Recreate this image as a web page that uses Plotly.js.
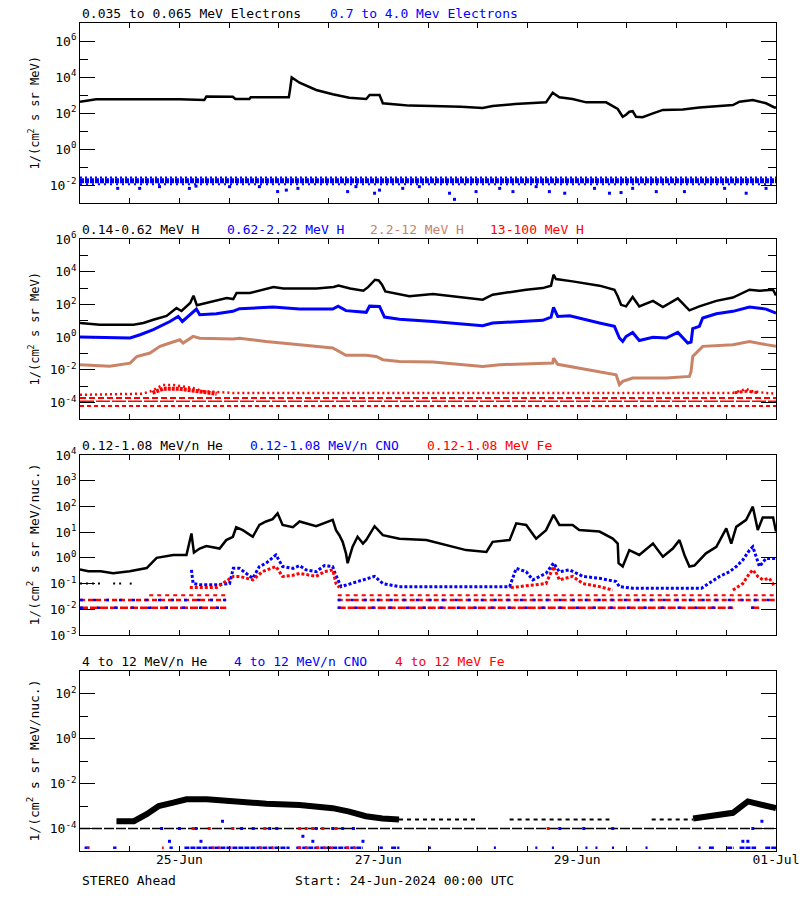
<!DOCTYPE html>
<html>
<head>
<meta charset="utf-8">
<script src="https://cdn.plot.ly/plotly-3.0.1.min.js"></script>
<style>html,body{margin:0;padding:0;background:#fff;}#chart{width:800px;height:900px;}</style>
</head>
<body>
<div id="chart"></div>
<script>
// ---------- time axis (hours since 24-Jun-2024 00:00 UTC) ----------
const hourTicks = [0,12,24,36,48,60,72,84,96,108,120,132,144,156,168];
const dayLabels = ['','','25-Jun','','','','27-Jun','','','','29-Jun','','','','01-Jul'];

// ---------- Panel 1: electrons ----------
const elecLoHours = [0,3.9,24,28,30,30.5,36.9,37.5,40.9,41.2,50.4,50.7,51.1,53,57,61,65,69.1,69.9,72.3,73.1,77.1,79.5,85,92,97.2,99.6,105,112.5,114.1,115.7,118.9,122.2,127,128.6,129.8,131,131.8,132.6,133.4,134.2,135.8,138.3,140.7,145.5,149.5,157.6,159.2,162.4,165.6,167.6,168];
const elecLoFlux  = [427,575,575,525,525,813,794,603,603,741,741,2000,9550,4790,1900,1100,710,600,1000,1000,347,290,257,245,224,190,245,316,390,1350,740,600,390,390,245,166,62,80,117,126,62,58,95,148,158,204,275,427,525,347,204,204];
const elecHiLevels = [0.0175, 0.026, 0.011];          // band core, upper fringe, lower fringe
const elecHiSegs = [[0,168]];
const elecHiOutHours = [9.1,14.4,19.2,26.4,28.0,36.1,43.3,47.7,49.8,52.6,64.6,66.6,71.1,72.3,77.9,81.9,89.2,90.4,95.6,101.3,104.5,110.1,113.3,117.0,124.2,127.8,130.6,133.4,139.1,145.9,155.6,160.8,165.6];
const elecHiOutFlux  = [0.0065,0.0065,0.0081,0.0065,0.0087,0.0081,0.0081,0.0043,0.0052,0.0065,0.0043,0.0081,0.0035,0.0052,0.0065,0.0081,0.0035,0.0016,0.0043,0.0065,0.0043,0.0081,0.0043,0.0035,0.0065,0.0035,0.0038,0.0065,0.0043,0.0043,0.0065,0.0035,0.0065];

// ---------- Panel 2: protons ----------
const hLoHours = [0,4.8,12.9,15.3,17.7,20.9,23.3,24.5,26.6,27.4,28.2,29,32.2,35.4,37,37.8,41,44.3,46.7,49.1,57.1,61.2,62.4,65.2,68.4,69.6,71.2,72.1,72.9,73.7,77.1,79.5,85.2,97.2,99.6,107.7,111.7,113.7,114.3,114.9,118.9,125.4,129,129.8,130.6,131.8,133.4,135,138.3,140.7,144.3,147.1,149.5,153.6,157.6,161.6,164,167.3,168];
const hLoFlux  = [7.4,5.8,5.8,7.4,11.7,20,60,40,123,340,89,100,155,245,214,500,500,794,1175,955,955,1175,1410,955,692,1175,3240,2950,1620,631,398,316,436,195,398,794,1000,1410,6610,3550,2570,1410,794,316,95,76,288,76,166,69,234,44,76,166,263,794,692,794,355];
const hMidHours = [0,12.1,14.5,17.7,21.7,23.7,24.7,26.5,28.1,28.9,32.9,36.9,38.5,46.6,53,61,62.3,64.2,69.1,69.9,72.3,73.5,77.1,85.2,93.2,97.2,99.6,111.7,113.7,114.3,115.3,118.2,125.4,129,130.2,131,131.8,133.4,135,138.3,141.5,144.3,146.7,147.5,147.9,149.5,150.3,153.6,157.6,161.6,165.6,168];
const hMidFlux  = [1.02,0.89,1.41,2.9,9.1,18.6,9.1,23.4,52,23.4,27,38,55,69,52,52,79,42,33,79,76,17,12.5,9.1,6.3,5.0,7.4,10.7,17,66,18.6,20.4,7.4,4.6,0.89,0.55,1.1,1.95,0.63,1.0,0.89,1.95,0.44,0.5,3.3,4.6,14.8,27,38,69,52,29.5];
const hHiHours = [0,7.2,12.1,13.7,16.9,19.3,21.7,24.1,24.9,27.3,28.9,36.9,38.5,44.9,53,61,64.2,69.1,71.5,73.1,77.1,85.2,97.2,101.3,114.1,114.3,115.3,125.4,129.4,130.2,131,133.4,141.5,147.1,147.5,147.9,150.3,157.6,161.6,165.6,168];
const hHiFlux  = [0.021,0.0166,0.026,0.066,0.107,0.275,0.44,0.69,0.44,1.12,0.87,0.78,0.87,0.55,0.35,0.22,0.078,0.078,0.066,0.042,0.033,0.030,0.016,0.021,0.026,0.052,0.022,0.0081,0.005,0.00126,0.002,0.0032,0.0032,0.004,0.0081,0.066,0.275,0.35,0.55,0.35,0.275];
const hTopRowLevels = [6.3e-5, 1.2e-4, 1.9e-4];
const hTopRowSegs = [[[0,168]], [[0,168]], [[0,168]]];
const hTopUpperHours = [0,15,17,18.5,20,22.5,24.9,27.3,29.7,32,37,60,100,150,157.6,160.8,162.4,165.6,168];
const hTopUpperFlux  = [3.0e-4,3.5e-4,4.9e-4,7.8e-4,1.2e-3,1.2e-3,9.8e-4,7.8e-4,5e-4,4.5e-4,3.9e-4,3.9e-4,3.9e-4,3.9e-4,3.9e-4,6.8e-4,4.9e-4,3.9e-4,3.5e-4];
const hTopBumpHours = [17.5,20,24,28,33,158,160.8,164];
const hTopBumpFlux  = [4e-4,7e-4,7e-4,5e-4,3.5e-4,4e-4,5e-4,4e-4];

// ---------- Panel 3: 0.12-1.08 MeV/n ions ----------
const heLoHours = [0,2,5,8,12,16.1,18.5,22.5,25.7,26.9,27.5,28.9,30.5,33.7,35.3,36.9,37.7,39.3,41.7,43.3,44.9,46.5,47.7,48.9,51.4,53,57,61,61.8,62.6,63.4,64.2,64.6,65.8,67,68.3,69.1,71.1,73.1,77.1,83.6,93.2,98.1,99.6,103.7,105.3,107.7,110.1,112.5,114.3,115.7,118.9,120.5,125.4,128.6,129.8,130,131,132.6,135,138.3,140.7,143.1,144.7,145.9,147.1,148.3,151.1,153.6,156,157.2,158.4,160.8,162.4,163.6,164.8,167.3,168];
const heLoFlux  = [0.35,0.3,0.3,0.25,0.3,0.4,1.0,1.3,1.3,8.9,1.6,2.3,2.9,2.3,4.9,6.6,15.5,12,6.6,19,26,32,54,19,15.5,26,17,30,12,7.6,4.2,1.5,0.62,2.7,6.6,3.6,5.0,17,7.6,5.5,4.9,2.0,1.7,4.2,4.9,22,19,5.6,12,47,19,19,12,10.5,5.6,3.6,0.62,0.46,2.0,1.3,3.6,1.1,2.3,4.9,1.3,0.46,0.5,1.5,2.7,14,3.6,16,30,98,12,37,37,10.5];
const heLoRowLevel = 0.1;
const heLoRowSegs = [[0,5],[8,10],[12,13]];
const cnoLoHours = [26.9,27.3,29,33,36.1,37,38.5,40,41.7,43.3,44.9,47.3,48.9,51.4,53,54.6,57,59,61,61.4,62.2,63,71.1,73.1,77,100,103.7,105.3,107.7,109.3,112.5,114.3,115.7,118.2,121.4,125.4,129.4,130.2,133.4,150,154.4,156.8,158.4,160,161.6,162.4,164,165.6,168];
const cnoLoFlux  = [0.34,0.1,0.09,0.09,0.1,0.39,0.39,0.25,0.16,0.46,0.62,1.3,0.46,0.39,0.5,0.34,0.29,0.5,0.46,0.29,0.14,0.076,0.19,0.1,0.076,0.076,0.076,0.39,0.29,0.14,0.25,0.63,0.29,0.34,0.19,0.16,0.12,0.076,0.066,0.066,0.19,0.29,0.46,0.83,2.0,2.7,0.46,0.95,0.95];
const feLoHours = [26.5,33,37,38.5,41.7,44,47.3,48.9,51.4,53,57,59,61,61.8,62.6,null,104,112.5,114.3,115.7,118.9,121.4,125.4,128.6,null,157.6,160,161.6,162.4,163.6,164.8,166.4,167.7];
const feLoFlux  = [0.07,0.07,0.19,0.19,0.14,0.29,0.46,0.19,0.21,0.25,0.19,0.29,0.34,0.1,0.07,null,0.07,0.1,0.46,0.14,0.19,0.1,0.076,0.056,null,0.056,0.1,0.25,0.34,0.19,0.14,0.16,0.076];
const ionRowLevels = [0.0115, 0.023, 0.035];
const ionRowSegs = [[[0,35.3],[62.2,157.6],[162,164]], [[0,35.3],[62.2,168]], [[16.7,35.3],[62.2,168]]];

// ---------- Panel 4: 4-12 MeV/n ions ----------
const he4Hours = [8.8,13,16.1,19,22.5,25.7,30.6,37,45,53,57,61,65,69,73,77,null,148,153.6,157.6,161.2,164,168];
const he4Flux  = [2.1e-4,2.1e-4,4.3e-4,1e-3,1.4e-3,2.0e-3,2.0e-3,1.6e-3,1.26e-3,1.1e-3,1e-3,8e-4,5.6e-4,3.5e-4,2.8e-4,2.5e-4,null,2.8e-4,4e-4,5e-4,1.6e-3,1.26e-3,8e-4];
const he4FloorLevel = 1e-4;
const he4FloorSegs = [[0,168]];
const he4MidLevel = 2.5e-4;
const he4MidSegs = [[77,95.6],[103.7,127.8],[138,148]];
const cno4RowLevel = 1.4e-5;
const cno4RowSegs = [[1.1,2.3],[8,8.8],[21.6,22.4],[25.2,50.6],[52.2,68.3],[72.3,73.1],[75.1,77.1],[84.2,84.7],[99.9,100.4],[109.9,110.4],[113.9,114.4],[122,122.5],[124.4,124.9],[128.4,128.9],[136.5,137],[149.3,149.8],[151.8,153],[156.2,157.8],[159.2,163.2],[165.4,168]];
const fe4RowSegs = [[1.7,2.1],[19.8,20.2],[31.9,32.4],[33.4,33.9],[36,36.4],[43.2,45],[46.3,46.7],[52.6,56],[57,61],[64.2,66.6]];
const cno4PtHours = [21.6,29.2,53.8,56.2,68.3,160,161.2,19.7,24,28,39,41.8,45.8,47.5,57,61,63.4,66,115.8,121.6,128.6,162.4,34.4,164.6];
const cno4PtFlux  = [2.7e-5,2.7e-5,4.5e-5,2.7e-5,2.7e-5,2.7e-5,2.7e-5,1e-4,1e-4,1e-4,1e-4,1e-4,1e-4,1e-4,1e-4,1e-4,1e-4,1e-4,1e-4,1e-4,1e-4,1e-4,2.1e-4,2.1e-4];
const fe4PtHours = [27.3,31.2,36.9,44.6,53,54.6,56.2,58.6,61.8,113];
const fe4PtFlux  = [1e-4,1e-4,1e-4,1e-4,1e-4,1e-4,1e-4,1e-4,1e-4,1e-4];

// ---------- y tick definitions ----------
const p1Major = [1e-2,1,1e2,1e4,1e6], p1Text = ['10<sup>-2</sup>','10<sup>0</sup>','10<sup>2</sup>','10<sup>4</sup>','10<sup>6</sup>'], p1Minor = [1e-1,10,1e3,1e5];
const p2Major = [1e-4,1e-2,1,1e2,1e4,1e6], p2Text = ['10<sup>-4</sup>','10<sup>-2</sup>','10<sup>0</sup>','10<sup>2</sup>','10<sup>4</sup>','10<sup>6</sup>'], p2Minor = [1e-3,1e-1,10,1e3,1e5];
const p3Major = [1e-3,1e-2,1e-1,1,10,1e2,1e3,1e4], p3Text = ['10<sup>-3</sup>','10<sup>-2</sup>','10<sup>-1</sup>','10<sup>0</sup>','10<sup>1</sup>','10<sup>2</sup>','10<sup>3</sup>','10<sup>4</sup>'], p3Minor = [];
const p4Major = [1e-4,1e-2,1,1e2], p4Text = ['10<sup>-4</sup>','10<sup>-2</sup>','10<sup>0</sup>','10<sup>2</sup>'], p4Minor = [1e-3,1e-1,10];

// ---------- colours ----------
const BLACK = '#000000', BLUE = '#0000ff', SIENNA = '#c98468', RED = '#ff0000';
const FONT = 'DejaVu Sans Mono';

function lineTrace(x, y, color, width, xa, ya, dash) {
  return {x, y, xaxis: xa, yaxis: ya, mode: 'lines', line: {color, width, dash: dash || 'solid'}, connectgaps: false, hoverinfo: 'skip'};
}
function rowTrace(segs, level, color, dash, width, xa, ya) {
  const x = [], y = [];
  segs.forEach(s => { x.push(s[0], s[1], null); y.push(level, level, null); });
  return {x, y, xaxis: xa, yaxis: ya, mode: 'lines', line: {color, width, dash}, connectgaps: false, hoverinfo: 'skip'};
}
function ptTrace(x, y, color, xa, ya) {
  return {x, y, xaxis: xa, yaxis: ya, mode: 'markers', marker: {color, size: 3, symbol: 'square'}, hoverinfo: 'skip'};
}

const traces = [
  // panel 1
  rowTrace(elecHiSegs, elecHiLevels[1], BLUE, '2px,3px', 2, 'x', 'y'),
  rowTrace(elecHiSegs, elecHiLevels[2], BLUE, '2px,4px', 2, 'x', 'y'),
  rowTrace(elecHiSegs, elecHiLevels[0], BLUE, '4px,1px', 5, 'x', 'y'),
  ptTrace(elecHiOutHours, elecHiOutFlux, BLUE, 'x', 'y'),
  lineTrace(elecLoHours, elecLoFlux, BLACK, 2.5, 'x', 'y'),
  // panel 2
  rowTrace(hTopRowSegs[0], hTopRowLevels[0], RED, '4px,3px', 2, 'x2', 'y2'),
  rowTrace(hTopRowSegs[1], hTopRowLevels[1], RED, '14px,2px', 1.5, 'x2', 'y2'),
  rowTrace(hTopRowSegs[2], hTopRowLevels[2], RED, '6px,3px', 2, 'x2', 'y2'),
  lineTrace(hTopUpperHours, hTopUpperFlux, RED, 2.5, 'x2', 'y2', '2px,3px'),
  lineTrace(hTopBumpHours.slice(0,5), hTopBumpFlux.slice(0,5), RED, 4, 'x2', 'y2', '3px,1px'),
  lineTrace(hTopBumpHours.slice(5), hTopBumpFlux.slice(5), RED, 3, 'x2', 'y2', '3px,2px'),
  lineTrace(hHiHours, hHiFlux, SIENNA, 3, 'x2', 'y2'),
  lineTrace(hMidHours, hMidFlux, BLUE, 3, 'x2', 'y2'),
  lineTrace(hLoHours, hLoFlux, BLACK, 2.5, 'x2', 'y2'),
  // panel 3
  rowTrace(ionRowSegs[0], ionRowLevels[0], RED, '8px,2px', 2.5, 'x3', 'y3'),
  rowTrace(ionRowSegs[1], ionRowLevels[1], RED, '5px,3px', 2.5, 'x3', 'y3'),
  rowTrace(ionRowSegs[2], ionRowLevels[2], RED, '4px,4px', 2, 'x3', 'y3'),
  rowTrace(ionRowSegs[0], ionRowLevels[0], BLUE, '3px,14px', 2.5, 'x3', 'y3'),
  rowTrace(ionRowSegs[1], ionRowLevels[1], BLUE, '3px,10px', 2.5, 'x3', 'y3'),
  rowTrace(heLoRowSegs, heLoRowLevel, BLACK, '2px,4px', 2, 'x3', 'y3'),
  lineTrace(cnoLoHours, cnoLoFlux, BLUE, 3, 'x3', 'y3', '3px,2px'),
  lineTrace(feLoHours, feLoFlux, RED, 3, 'x3', 'y3', '3px,2px'),
  lineTrace(heLoHours, heLoFlux, BLACK, 2.5, 'x3', 'y3'),
  // panel 4
  rowTrace(cno4RowSegs, cno4RowLevel, BLUE, '5px,1px', 2.5, 'x4', 'y4'),
  rowTrace(fe4RowSegs, cno4RowLevel, RED, '3px,4px', 2.5, 'x4', 'y4'),
  rowTrace(he4FloorSegs, he4FloorLevel, BLACK, '10px,2px', 1.5, 'x4', 'y4'),
  rowTrace(he4MidSegs, he4MidLevel, BLACK, '4px,4px', 2, 'x4', 'y4'),
  ptTrace(cno4PtHours, cno4PtFlux, BLUE, 'x4', 'y4'),
  ptTrace(fe4PtHours, fe4PtFlux, RED, 'x4', 'y4'),
  lineTrace(he4Hours, he4Flux, BLACK, 6, 'x4', 'y4')
];

function mkX(anchor, labels) {
  return {
    anchor, range: [0, 168], tickmode: 'array', tickvals: hourTicks, ticktext: dayLabels,
    showticklabels: labels, ticks: 'inside', ticklen: 5, tickwidth: 1, tickcolor: BLACK,
    showline: true, linecolor: BLACK, linewidth: 1, mirror: 'ticks',
    showgrid: false, zeroline: false, fixedrange: true, ticklabelstandoff: -4,
    tickfont: {family: FONT, size: 13, color: BLACK}
  };
}
function mkY(anchor, domain, range, major, text, minor) {
  return {
    anchor, domain, type: 'log', range, tickmode: 'array', tickvals: major, ticktext: text,
    ticks: 'inside', ticklen: 15, tickwidth: 1, tickcolor: BLACK,
    minor: {tickmode: 'array', tickvals: minor, ticks: 'inside', ticklen: 8, tickwidth: 1, tickcolor: BLACK, showgrid: false},
    showline: true, linecolor: BLACK, linewidth: 1, mirror: 'ticks',
    showgrid: false, zeroline: false, fixedrange: true,
    tickfont: {family: FONT, size: 13, color: BLACK}
  };
}

const D1 = [648/828, 1], D2 = [432/828, 612/828], D3 = [216/828, 396/828], D4 = [0, 180/828];
const W = 696;
function px(x) { return (x - 80) / W; }
function header(text, x, top, color) {
  return {text, x: px(x), y: top, xref: 'paper', yref: 'paper', xanchor: 'left', yanchor: 'middle', yshift: 10,
          showarrow: false, font: {family: FONT, size: 13, color}};
}
function ytitle(text, dom, size) {
  return {text, x: px(33.5), y: (dom[0] + dom[1]) / 2, xref: 'paper', yref: 'paper', xanchor: 'center', yanchor: 'middle',
          textangle: -90, showarrow: false, font: {family: FONT, size, color: BLACK}};
}

const annotations = [
  header('0.035 to 0.065 MeV Electrons', 80, D1[1], BLACK),
  header('0.7 to 4.0 Mev Electrons', 328, D1[1], BLUE),
  header('0.14-0.62 MeV H', 80, D2[1], BLACK),
  header('0.62-2.22 MeV H', 225, D2[1], BLUE),
  header('2.2-12 MeV H', 368, D2[1], SIENNA),
  header('13-100 MeV H', 488, D2[1], RED),
  header('0.12-1.08 MeV/n He', 80, D3[1], BLACK),
  header('0.12-1.08 MeV/n CNO', 248, D3[1], BLUE),
  header('0.12-1.08 MeV Fe', 425, D3[1], RED),
  header('4 to 12 MeV/n He', 80, D4[1], BLACK),
  header('4 to 12 MeV/n CNO', 232, D4[1], BLUE),
  header('4 to 12 MeV Fe', 393, D4[1], RED),
  ytitle('1/(cm<sup>2</sup> s sr MeV)', D1, 12),
  ytitle('1/(cm<sup>2</sup> s sr MeV)', D2, 12),
  ytitle('1/(cm<sup>2</sup> s sr MeV/nuc.)', D3, 13),
  ytitle('1/(cm<sup>2</sup> s sr MeV/nuc.)', D4, 13),
  {text: 'STEREO Ahead', x: 0, y: 0, xref: 'paper', yref: 'paper', xanchor: 'left', yanchor: 'middle', yshift: -29,
   showarrow: false, font: {family: FONT, size: 13, color: BLACK}},
  {text: 'Start: 24-Jun-2024 00:00 UTC', x: px(293), y: 0, xref: 'paper', yref: 'paper', xanchor: 'left', yanchor: 'middle', yshift: -29,
   showarrow: false, font: {family: FONT, size: 13, color: BLACK}}
];

const layout = {
  width: 800, height: 900,
  margin: {l: 80, r: 24, t: 23, b: 49, pad: 0},
  paper_bgcolor: '#ffffff', plot_bgcolor: '#ffffff',
  showlegend: false,
  font: {family: FONT, size: 13, color: BLACK},
  xaxis: mkX('y', false), xaxis2: mkX('y2', false), xaxis3: mkX('y3', false), xaxis4: mkX('y4', true),
  yaxis: mkY('x', D1, [-3, 7], p1Major, p1Text, p1Minor),
  yaxis2: mkY('x2', D2, [-5, 6], p2Major, p2Text, p2Minor),
  yaxis3: mkY('x3', D3, [-3, 4], p3Major, p3Text, p3Minor),
  yaxis4: mkY('x4', D4, [-5, 3], p4Major, p4Text, p4Minor),
  annotations
};

Plotly.newPlot('chart', traces, layout, {staticPlot: true, displayModeBar: false});
</script>
</body>
</html>
